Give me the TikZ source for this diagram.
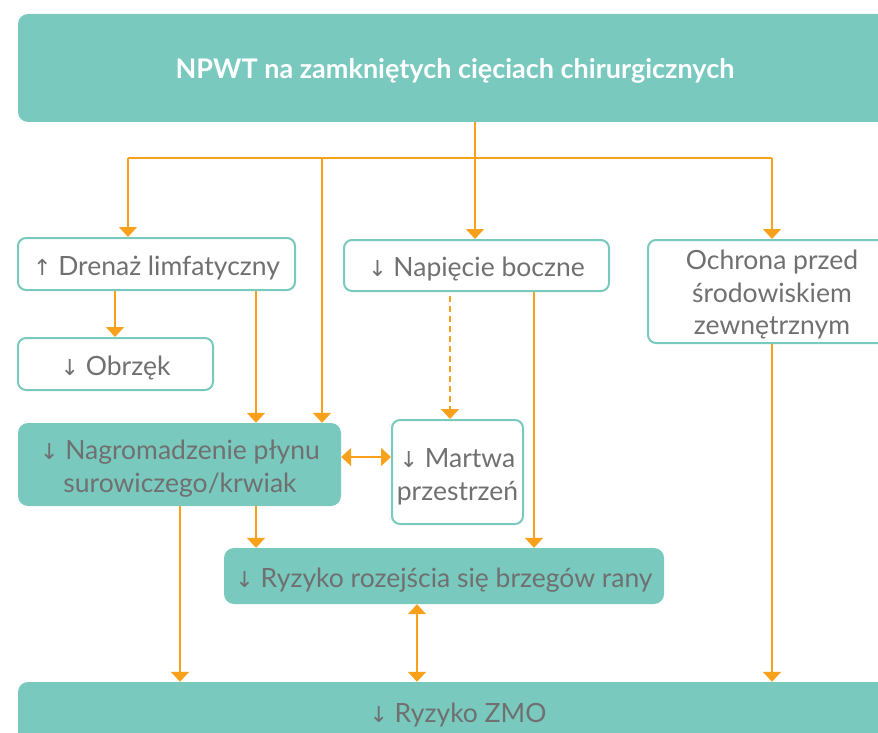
\documentclass[tikz,border=0pt]{standalone}
\usepackage{fontspec}
\setmainfont{Lato}
\newfontfamily\symf{DejaVu Sans}
\usetikzlibrary{arrows.meta}
\definecolor{teal1}{HTML}{79C9BF}
\definecolor{orng}{HTML}{F9A11B}
\definecolor{txtgray}{HTML}{707070}
\newcommand{\dn}{{\symf\fontsize{22}{22}\selectfont ↓}}
\newcommand{\up}{{\symf\fontsize{22}{22}\selectfont ↑}}
\tikzset{
  lowtext/.style={execute at begin node={\rule{0pt}{27pt}}},
  fillbox/.style={fill=teal1, rounded corners=10pt, inner sep=0pt, text=txtgray, align=center, font=\fontsize{26.5}{33}\selectfont, lowtext},
  linebox/.style={draw=teal1, line width=2pt, fill=white, rounded corners=8pt, inner sep=0pt, text=txtgray, align=center, font=\fontsize{26.5}{33}\selectfont, lowtext},
  boxtext/.style={text=txtgray, align=center, inner sep=0pt, font=\fontsize{26.5}{33}\selectfont},
  conn/.style={draw=orng, line width=1.5pt},
  arr/.style={conn, -{Triangle[width=18pt,length=10pt]}},
  darr/.style={conn, {Triangle[width=18pt,length=10pt]}-{Triangle[width=18pt,length=10pt]}},
  dasharr/.style={arr, dashed, dash pattern=on 6pt off 4pt}
}
\begin{document}
\begin{tikzpicture}[x=1pt,y=-1pt]
\clip (0,0) rectangle (878,733);
\fill[white] (0,0) rectangle (878,733);
% boxes
\node[fillbox, minimum width=900pt, minimum height=108pt] (top) at (468,68) {};
\node[text=white, font=\bfseries\fontsize{27}{30}\selectfont] (title) at (455,71) {NPWT na zamkniętych cięciach chirurgicznych};
\node[linebox, minimum width=277pt, minimum height=52pt] (dren) at (156.5,264) {\up\ Drenaż limfatyczny};
\node[linebox, minimum width=195pt, minimum height=52pt] (obrz) at (115.5,364) {\dn\ Obrzęk};
\node[linebox, minimum width=265pt, minimum height=51pt] (nap) at (476.5,265.5) {\dn\ Napięcie boczne};
\node[linebox, minimum width=260pt, minimum height=103pt] (ochr) at (778,291.5) {};
\node[boxtext, font=\fontsize{26.5}{32.5}\selectfont] (ochrt) at (772,295) {Ochrona przed\\środowiskiem\\zewnętrznym};
\node[fillbox, minimum width=323pt, minimum height=83pt] (nagr) at (179.5,464.5) {};
\node[boxtext] (nagrt) at (180,469) {\dn\ Nagromadzenie płynu\\surowiczego/krwiak};
\node[linebox, minimum width=131pt, minimum height=104pt] (mart) at (457.5,472) {};
\node[boxtext] (martt) at (457.5,477) {\dn\ Martwa\\przestrzeń};
\node[fillbox, minimum width=440pt, minimum height=56pt] (roz) at (444,576) {\dn\ Ryzyko rozejścia się brzegów rany};
\node[fillbox, minimum width=900pt, minimum height=100pt] (zmo) at (468,732) {};
\node[text=txtgray, font=\fontsize{26.5}{30}\selectfont] (zmot) at (458,715) {\dn\ Ryzyko ZMO};
% x guides
\coordinate (bus) at (475,158);
\coordinate (x128) at (128,0);
\coordinate (x115) at (115,0);
\coordinate (x180) at (180,0);
\coordinate (x256) at (256,0);
\coordinate (x322) at (322,0);
\coordinate (x417) at (417,0);
\coordinate (x450) at (450,0);
\coordinate (x534) at (534,0);
\coordinate (x772) at (772,0);
\coordinate (y457) at (0,457);
% connectors
\draw[conn] (top.south -| bus) -- (bus);
\draw[conn] (bus -| x128) -- (bus -| x772);
\draw[arr] (bus -| x128) -- (dren.north -| x128);
\draw[arr] (bus -| x322) -- (nagr.north -| x322);
\draw[arr] (bus) -- (nap.north -| bus);
\draw[arr] (bus -| x772) -- (ochr.north -| x772);
\draw[arr] (dren.south -| x115) -- (obrz.north -| x115);
\draw[arr] (dren.south -| x256) -- (nagr.north -| x256);
\draw[dasharr] ([yshift=-4pt]nap.south -| x450) -- (mart.north -| x450);
\draw[arr] (nap.south -| x534) -- (roz.north -| x534);
\draw[arr] (ochr.south -| x772) -- (zmo.north -| x772);
\draw[darr] (nagr.east |- y457) -- (mart.west |- y457);
\draw[arr] (nagr.south -| x180) -- (zmo.north -| x180);
\draw[arr] (nagr.south -| x256) -- (roz.north -| x256);
\draw[darr] (roz.south -| x417) -- (zmo.north -| x417);
\end{tikzpicture}
\end{document}
